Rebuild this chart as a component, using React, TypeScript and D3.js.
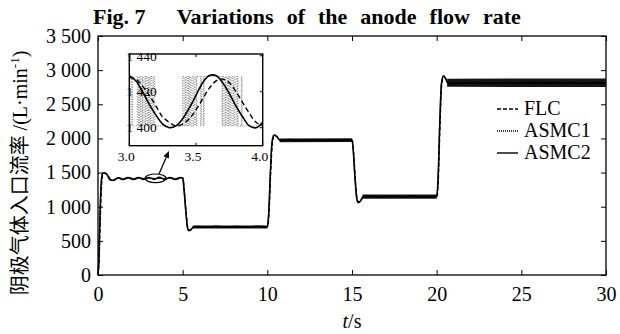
import { useEffect, useRef } from "react";
import * as d3 from "d3";

const width = 620;
const height = 334;

const serif = "'Liberation Serif', 'Times New Roman', serif";

// 主圖與放大圖的座標範圍
const plot = { left: 98, right: 606, top: 36, bottom: 275 };
const inset = { left: 129.3, right: 262.7, top: 54, bottom: 145.7 };

const xTicks = [0, 5, 10, 15, 20, 25, 30];
const yTicks = [0, 500, 1000, 1500, 2000, 2500, 3000, 3500];
const insetXTicks = [3.0, 3.5, 4.0];
const insetYTicks = [1400, 1420, 1440];

const seriesNames = ["FLC", "ASMC1", "ASMC2"];

type Pt = [number, number];
type Band = [number, number, number];

// ASMC2（實線）主圖
const asmc2Main: Pt[] = [
  [0, 0], [0.05, 200], [0.12, 900], [0.2, 1380], [0.28, 1490], [0.4, 1495],
  [0.55, 1465], [0.72, 1390], [0.9, 1385], [1.16, 1425], [1.46, 1398],
  [1.77, 1428], [2.08, 1398], [2.38, 1428], [2.7, 1399], [3.0, 1429],
  [3.32, 1400], [3.61, 1430], [3.94, 1400], [4.23, 1428], [4.55, 1399],
  [4.86, 1428], [5.0, 1420],
  [5.08, 1250], [5.18, 950], [5.28, 700], [5.35, 650], [5.45, 655], [5.6, 695],
  [5.8, 712], [6.4, 702], [7.0, 714], [7.6, 700], [8.2, 712], [8.8, 702],
  [9.4, 713], [10.0, 706],
  [10.08, 900], [10.18, 1500], [10.28, 1950], [10.4, 2050], [10.55, 2030],
  [10.75, 1975], [11.4, 1985], [12.0, 1968], [12.6, 1982], [13.2, 1968],
  [13.8, 1982], [14.4, 1968], [15.0, 1978],
  [15.08, 1800], [15.18, 1400], [15.28, 1120], [15.37, 1060], [15.5, 1085],
  [15.65, 1145], [16.2, 1158], [16.8, 1142], [17.4, 1156], [18.0, 1142],
  [18.6, 1156], [19.2, 1142], [20.0, 1152],
  [20.08, 1400], [20.18, 2200], [20.28, 2800], [20.4, 2915], [20.52, 2880],
  [20.67, 2800], [22.0, 2815], [24.0, 2808], [26.0, 2818], [28.0, 2810],
  [30.0, 2815],
];

// FLC（虛線）主圖
const flcMain: Pt[] = [
  [0, 0], [0.06, 180], [0.14, 850], [0.22, 1350], [0.3, 1480], [0.42, 1490],
  [0.58, 1460], [0.76, 1395], [0.95, 1388], [1.21, 1424], [1.51, 1400],
  [1.83, 1426], [2.13, 1400], [2.45, 1426], [2.75, 1401], [3.07, 1427],
  [3.37, 1401], [3.69, 1427], [3.99, 1401], [4.31, 1426], [4.61, 1401],
  [4.93, 1425], [5.02, 1420],
  [5.1, 1240], [5.2, 940], [5.3, 700], [5.38, 655], [5.48, 660], [5.62, 700],
  [5.85, 710], [7.5, 706], [10.02, 708],
  [10.1, 900], [10.2, 1500], [10.3, 1940], [10.42, 2040], [10.58, 2025],
  [10.78, 1975], [12.5, 1976], [15.02, 1976],
  [15.1, 1790], [15.2, 1400], [15.3, 1125], [15.4, 1065], [15.52, 1090],
  [15.68, 1145], [17.5, 1150], [20.02, 1150],
  [20.1, 1400], [20.2, 2200], [20.3, 2790], [20.42, 2905], [20.55, 2870],
  [20.7, 2805], [25.0, 2812], [30.0, 2812],
];

// ASMC1（點線）主圖的過渡段，平台段的抖振以帶狀表示
const asmc1Main: Pt[] = [
  [0, 0], [0.05, 220], [0.12, 950], [0.2, 1400], [0.28, 1492], [0.4, 1497],
  [0.55, 1462], [0.72, 1392], [0.9, 1390], [1.2, 1414], [5.0, 1414],
  [5.08, 1245], [5.18, 945], [5.28, 698], [5.35, 648], [5.45, 654], [5.6, 700],
  [10.0, 705], [10.08, 905], [10.18, 1510], [10.28, 1955], [10.4, 2052],
  [10.55, 2030], [10.75, 1972], [15.0, 1972], [15.08, 1805], [15.18, 1405],
  [15.28, 1118], [15.37, 1058], [15.5, 1084], [15.65, 1147], [20.0, 1148],
  [20.08, 1405], [20.18, 2210], [20.28, 2805], [20.4, 2918], [20.52, 2882],
  [20.67, 2812], [30.0, 2812],
];

// ASMC1 抖振帶：[t, 下緣, 上緣]
const asmc1Bands: Band[][] = [
  [[5.6, 680, 725], [10.0, 682, 726]],
  [[10.72, 1945, 2000], [15.0, 1946, 2001]],
  [[15.62, 1115, 1180], [20.0, 1117, 1180]],
  [[20.62, 2755, 2875], [30.0, 2752, 2878]],
];

// 放大圖 3.0–4.0 s
const asmc2Inset: Pt[] = [
  [3.0, 1429], [3.05, 1426], [3.1, 1420], [3.15, 1413], [3.2, 1407],
  [3.25, 1402], [3.3, 1400], [3.35, 1401], [3.4, 1405], [3.45, 1411],
  [3.5, 1418], [3.55, 1425], [3.6, 1429], [3.65, 1429], [3.7, 1425],
  [3.75, 1419], [3.8, 1412], [3.85, 1406], [3.9, 1401], [3.95, 1400],
  [4.0, 1403],
];

const flcInset: Pt[] = [
  [3.0, 1428], [3.05, 1427], [3.1, 1423], [3.15, 1418], [3.2, 1412],
  [3.25, 1406], [3.3, 1403], [3.35, 1401], [3.4, 1402], [3.45, 1405],
  [3.5, 1410], [3.55, 1416], [3.6, 1422], [3.65, 1426], [3.7, 1427],
  [3.75, 1425], [3.8, 1420], [3.85, 1414], [3.9, 1408], [3.95, 1403],
  [4.0, 1401],
];

// ASMC1 在放大圖中於高低兩值間切換的時刻
const asmc1InsetHigh = 1428.5;
const asmc1InsetLow = 1401;
const asmc1InsetSwitches = [
  3.005, 3.015, 3.025,
  3.06, 3.07, 3.075, 3.085, 3.095, 3.1, 3.11, 3.12, 3.125, 3.135, 3.145, 3.15,
  3.16, 3.17, 3.18, 3.19,
  3.4, 3.41, 3.42, 3.425, 3.435, 3.445, 3.45, 3.46, 3.47, 3.48, 3.49, 3.5, 3.505,
  3.535, 3.54, 3.555, 3.56,
  3.695, 3.7, 3.71, 3.72, 3.725, 3.735, 3.745, 3.75, 3.76, 3.77, 3.78, 3.79,
  3.8, 3.81, 3.815,
  3.84, 3.845,
];

const spaceFormat = d3.formatLocale({
  decimal: ".",
  thousands: " ",
  grouping: [3],
  currency: ["", ""],
}).format(",");

export default function App() {
  const chartRef = useRef<SVGGElement | null>(null);

  useEffect(() => {
    if (!chartRef.current) return;
    const svg = d3.select(chartRef.current);
    svg.selectAll("*").remove();

    const x = d3.scaleLinear().domain([0, 30]).range([plot.left, plot.right]);
    const y = d3.scaleLinear().domain([0, 3500]).range([plot.bottom, plot.top]);

    const styleAxis = (g: d3.Selection<SVGGElement, unknown, null, undefined>) => {
      g.attr("font-family", serif).attr("font-size", 20);
      g.select(".domain").remove();
      g.selectAll("line").attr("stroke", "#000").attr("stroke-width", 1);
      g.selectAll("text")
        .attr("fill", "#000")
        .attr("font-family", serif)
        .attr("font-size", 20);
    };

    // 座標軸（刻度向內）
    svg
      .append("g")
      .attr("transform", `translate(0,${plot.bottom})`)
      .call(d3.axisBottom(x).tickValues(xTicks).tickSizeInner(-5).tickSizeOuter(0).tickPadding(12).tickFormat(d3.format("d")))
      .call(styleAxis);
    svg
      .append("g")
      .attr("transform", `translate(0,${plot.top})`)
      .call(d3.axisTop(x).tickValues(xTicks).tickSizeInner(-5).tickSizeOuter(0).tickFormat(() => ""))
      .call(styleAxis);
    svg
      .append("g")
      .attr("transform", `translate(${plot.left},0)`)
      .call(d3.axisLeft(y).tickValues(yTicks).tickSizeInner(-5).tickSizeOuter(0).tickPadding(7).tickFormat((d) => spaceFormat(d as number)))
      .call(styleAxis);
    svg
      .append("g")
      .attr("transform", `translate(${plot.right},0)`)
      .call(d3.axisRight(y).tickValues(yTicks).tickSizeInner(-5).tickSizeOuter(0).tickFormat(() => ""))
      .call(styleAxis);

    svg
      .append("rect")
      .attr("x", plot.left)
      .attr("y", plot.top)
      .attr("width", plot.right - plot.left)
      .attr("height", plot.bottom - plot.top)
      .attr("fill", "none")
      .attr("stroke", "#000")
      .attr("stroke-width", 1.3);

    const line = d3
      .line<Pt>()
      .x((d) => x(d[0]))
      .y((d) => y(d[1]))
      .curve(d3.curveMonotoneX);

    const area = d3
      .area<Band>()
      .x((d) => x(d[0]))
      .y0((d) => y(d[1]))
      .y1((d) => y(d[2]));

    const main = svg.append("g");

    // ASMC1 抖振帶
    main
      .selectAll("path.band")
      .data(asmc1Bands)
      .join("path")
      .attr("class", "band")
      .attr("d", (d) => area(d))
      .attr("fill", "#151515");

    main
      .append("path")
      .attr("d", line(asmc1Main))
      .attr("fill", "none")
      .attr("stroke", "#000")
      .attr("stroke-width", 1.3)
      .attr("stroke-dasharray", "1,1");
    main
      .append("path")
      .attr("d", line(flcMain))
      .attr("fill", "none")
      .attr("stroke", "#000")
      .attr("stroke-width", 1.3)
      .attr("stroke-dasharray", "4,2");
    main
      .append("path")
      .attr("d", line(asmc2Main))
      .attr("fill", "none")
      .attr("stroke", "#000")
      .attr("stroke-width", 1.5);

    // 放大處的橢圓與箭頭
    main
      .append("ellipse")
      .attr("cx", x(3.4))
      .attr("cy", y(1416))
      .attr("rx", 10.5)
      .attr("ry", 4.3)
      .attr("fill", "none")
      .attr("stroke", "#000")
      .attr("stroke-width", 1.2);

    const tail: Pt = [x(3.6), y(1480)];
    const head: Pt = [x(4.19), y(1816)];
    const ang = Math.atan2(head[1] - tail[1], head[0] - tail[0]);
    const hl = 7;
    const hw = 3;
    const base: Pt = [head[0] - hl * Math.cos(ang), head[1] - hl * Math.sin(ang)];
    main
      .append("line")
      .attr("x1", tail[0])
      .attr("y1", tail[1])
      .attr("x2", base[0])
      .attr("y2", base[1])
      .attr("stroke", "#000")
      .attr("stroke-width", 1.3);
    main
      .append("polygon")
      .attr(
        "points",
        [
          head,
          [base[0] + hw * Math.sin(ang), base[1] - hw * Math.cos(ang)],
          [base[0] - hw * Math.sin(ang), base[1] + hw * Math.cos(ang)],
        ]
          .map((p) => p.join(","))
          .join(" "),
      )
      .attr("fill", "#000");

    // 放大圖
    const xi = d3.scaleLinear().domain([3, 4]).range([inset.left, inset.right]);
    const yi = d3.scaleLinear().domain([1390, 1441]).range([inset.bottom, inset.top]);

    const ins = svg.append("g");
    ins
      .append("rect")
      .attr("x", inset.left)
      .attr("y", inset.top)
      .attr("width", inset.right - inset.left)
      .attr("height", inset.bottom - inset.top)
      .attr("fill", "#fff");

    svg
      .append("clipPath")
      .attr("id", "inset-clip")
      .append("rect")
      .attr("x", inset.left)
      .attr("y", inset.top)
      .attr("width", inset.right - inset.left)
      .attr("height", inset.bottom - inset.top);

    const insetLine = d3
      .line<Pt>()
      .x((d) => xi(d[0]))
      .y((d) => yi(d[1]))
      .curve(d3.curveCatmullRom);

    // ASMC1 切換訊號
    const asmc1Steps: Pt[] = [[3.0, asmc1InsetHigh]];
    asmc1InsetSwitches.forEach((t, i) => {
      asmc1Steps.push([t, i % 2 === 0 ? asmc1InsetLow : asmc1InsetHigh]);
    });
    asmc1Steps.push([4.0, asmc1Steps[asmc1Steps.length - 1][1]]);

    const clip = ins.append("g").attr("clip-path", "url(#inset-clip)");
    clip
      .append("path")
      .attr(
        "d",
        d3
          .line<Pt>()
          .x((d) => xi(d[0]))
          .y((d) => yi(d[1]))
          .curve(d3.curveStepAfter)(asmc1Steps),
      )
      .attr("fill", "none")
      .attr("stroke", "#555")
      .attr("stroke-width", 0.8)
      .attr("stroke-dasharray", "1,1.5");
    clip
      .append("path")
      .attr("d", insetLine(flcInset))
      .attr("fill", "none")
      .attr("stroke", "#000")
      .attr("stroke-width", 1.4)
      .attr("stroke-dasharray", "5,3");
    clip
      .append("path")
      .attr("d", insetLine(asmc2Inset))
      .attr("fill", "none")
      .attr("stroke", "#000")
      .attr("stroke-width", 1.6);

    // 放大圖刻度
    ins
      .selectAll("line.ixt")
      .data(insetXTicks)
      .join("line")
      .attr("class", "ixt")
      .attr("x1", (d) => xi(d))
      .attr("x2", (d) => xi(d))
      .attr("y1", inset.top)
      .attr("y2", inset.top + 3)
      .attr("stroke", "#000");
    ins
      .selectAll("line.ixb")
      .data(insetXTicks)
      .join("line")
      .attr("class", "ixb")
      .attr("x1", (d) => xi(d))
      .attr("x2", (d) => xi(d))
      .attr("y1", inset.bottom)
      .attr("y2", inset.bottom - 3)
      .attr("stroke", "#000");
    ins
      .selectAll("line.iyr")
      .data(insetYTicks)
      .join("line")
      .attr("class", "iyr")
      .attr("x1", inset.right)
      .attr("x2", inset.right - 3)
      .attr("y1", (d) => yi(d))
      .attr("y2", (d) => yi(d))
      .attr("stroke", "#000");

    ins
      .append("rect")
      .attr("x", inset.left)
      .attr("y", inset.top)
      .attr("width", inset.right - inset.left)
      .attr("height", inset.bottom - inset.top)
      .attr("fill", "none")
      .attr("stroke", "#000")
      .attr("stroke-width", 1.4);

    ins
      .selectAll("text.ixl")
      .data(insetXTicks)
      .join("text")
      .attr("class", "ixl")
      .attr("x", (d) => xi(d) - 3)
      .attr("y", 160.7)
      .attr("text-anchor", "middle")
      .attr("font-family", serif)
      .attr("font-size", 13.5)
      .text((d) => d.toFixed(1));
    ins
      .selectAll("text.iyl")
      .data(insetYTicks)
      .join("text")
      .attr("class", "iyl")
      .attr("x", inset.left - 3)
      .attr("y", (d) => yi(d))
      .attr("dy", "0.35em")
      .attr("text-anchor", "start")
      .attr("font-family", serif)
      .attr("font-size", 13.5)
      .attr("fill", "#000")
      .text((d) => spaceFormat(d));

    // 圖例
    const legendDash = ["4,2", "1,1", null];
    const legend = svg
      .append("g")
      .selectAll("g")
      .data(seriesNames)
      .join("g")
      .attr("transform", (_, i) => `translate(497, ${115 + i * 22})`);
    legend
      .append("line")
      .attr("x1", 0)
      .attr("x2", 21)
      .attr("y1", -6)
      .attr("y2", -6)
      .attr("stroke", "#000")
      .attr("stroke-width", 1.4)
      .attr("stroke-dasharray", (_, i) => legendDash[i]);
    legend
      .append("text")
      .attr("x", 27)
      .attr("y", 0)
      .attr("font-family", serif)
      .attr("font-size", 20)
      .text((d) => d);
  }, []);

  return (
    <svg
      width={width}
      height={height}
      viewBox={`0 0 ${width} ${height}`}
      style={{ position: "absolute", left: 0, top: 0, background: "#fff" }}
    >
      <g ref={chartRef} />
      <text
        x={93}
        y={24}
        fontFamily={serif}
        fontSize={22}
        fontWeight="bold"
      >
        Fig. 7
      </text>
      <text
        x={176.7}
        y={24}
        fontFamily={serif}
        fontSize={22}
        fontWeight="bold"
        wordSpacing={7.5}
      >
        Variations of the anode flow rate
      </text>
      <text
        transform={`translate(27, 173) rotate(-90)`}
        textAnchor="middle"
        fontSize={20}
      >
        <tspan fontFamily="'Noto Sans CJK SC', sans-serif">阴极气体入口流率</tspan>
        <tspan fontFamily={serif}> /(L·min</tspan>
        <tspan fontFamily={serif} fontSize={13} dy={-8}>-1</tspan>
        <tspan fontFamily={serif} dy={8}>)</tspan>
      </text>
      <text x={352} y={328} textAnchor="middle" fontFamily={serif} fontSize={20}>
        <tspan fontStyle="italic">t</tspan>/s
      </text>
    </svg>
  );
}
